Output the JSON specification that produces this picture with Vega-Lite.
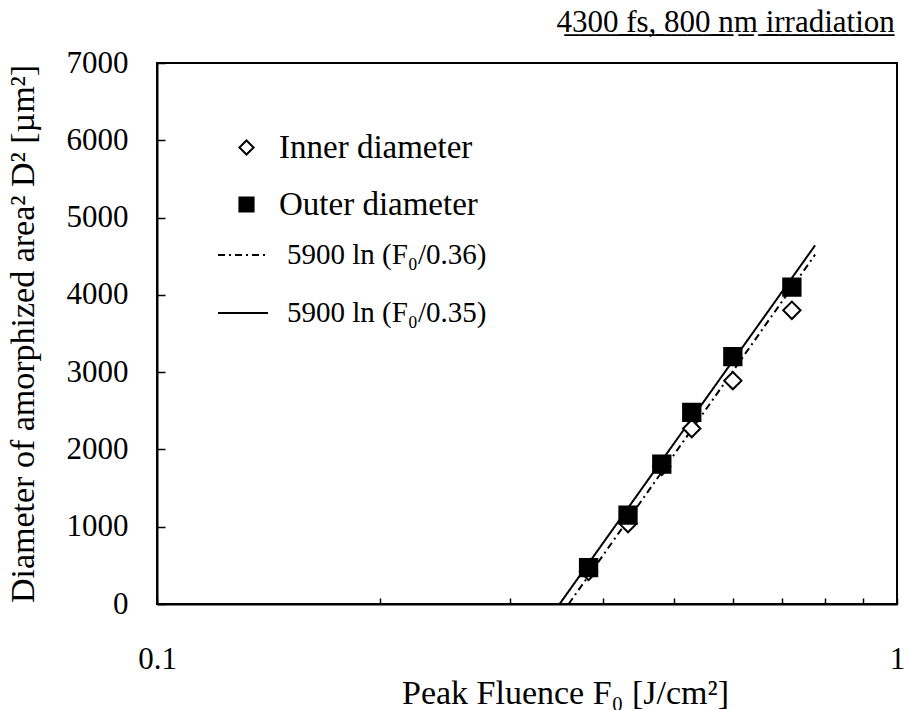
{
  "$schema": "https://vega.github.io/schema/vega-lite/v6.json",
  "width": 740,
  "height": 541,
  "autosize": {"type": "none"},
  "padding": {"left": 157, "top": 63, "right": 7, "bottom": 106},
  "background": "white",
  "title": {
    "text": "4̲3̲0̲0̲ ̲f̲s̲,̲ ̲8̲0̲0̲ ̲n̲m̲ ̲i̲r̲r̲a̲d̲i̲a̲t̲i̲o̲n̲",
    "anchor": "end",
    "font": "'Liberation Serif', 'DejaVu Serif', serif",
    "fontSize": 31,
    "fontWeight": "normal",
    "color": "black",
    "offset": 8,
    "dx": -10
  },
  "config": {
    "font": "'Liberation Serif', 'DejaVu Serif', serif",
    "view": {"stroke": "black", "strokeWidth": 2},
    "axis": {
      "labelFont": "'Liberation Serif', 'DejaVu Serif', serif",
      "titleFont": "'Liberation Serif', 'DejaVu Serif', serif",
      "labelFontSize": 31,
      "titleFontSize": 34,
      "titleFontWeight": "normal",
      "labelColor": "black",
      "titleColor": "black",
      "domainColor": "black",
      "domainWidth": 2,
      "tickColor": "black",
      "tickWidth": 1.5,
      "grid": false
    },
    "legend": {
      "labelFont": "'Liberation Serif', 'DejaVu Serif', serif",
      "labelColor": "black",
      "labelLimit": 400
    }
  },
  "datasets": {
    "pts": [
      {"F": 0.383, "D2": 420, "series": "Inner diameter"},
      {"F": 0.433, "D2": 1040, "series": "Inner diameter"},
      {"F": 0.481, "D2": 1780, "series": "Inner diameter"},
      {"F": 0.528, "D2": 2270, "series": "Inner diameter"},
      {"F": 0.600, "D2": 2890, "series": "Inner diameter"},
      {"F": 0.721, "D2": 3800, "series": "Inner diameter"},
      {"F": 0.383, "D2": 470, "series": "Outer diameter"},
      {"F": 0.433, "D2": 1150, "series": "Outer diameter"},
      {"F": 0.481, "D2": 1810, "series": "Outer diameter"},
      {"F": 0.528, "D2": 2480, "series": "Outer diameter"},
      {"F": 0.600, "D2": 3200, "series": "Outer diameter"},
      {"F": 0.721, "D2": 4100, "series": "Outer diameter"}
    ],
    "fits": [
      {"F": 0.36, "D2": 0, "fit": "5900 ln (F₀/0.36)"},
      {"F": 0.775, "D2": 4520, "fit": "5900 ln (F₀/0.36)"},
      {"F": 0.35, "D2": 0, "fit": "5900 ln (F₀/0.35)"},
      {"F": 0.775, "D2": 4640, "fit": "5900 ln (F₀/0.35)"}
    ]
  },
  "encoding": {
    "x": {
      "field": "F",
      "type": "quantitative",
      "scale": {"type": "log", "domain": [0.1, 1], "nice": false},
      "axis": {
        "title": "Peak Fluence F₀ [J/cm²]",
        "values": [0.1, 0.2, 0.3, 0.4, 0.5, 0.6, 0.7, 0.8, 0.9, 1],
        "labelExpr": "datum.value == 0.1 ? '0.1' : (datum.value == 1 ? '1' : '')",
        "tickSize": -6,
        "labelPadding": 46,
        "titlePadding": 2,
        "titleX": 408,
        "titleAlign": "center",
        "labelFlush": false,
        "labelOverlap": false
      }
    },
    "y": {
      "field": "D2",
      "type": "quantitative",
      "scale": {"domain": [0, 7000], "nice": false},
      "axis": {
        "title": "Diameter of amorphized area² D² [µm²]",
        "values": [0, 1000, 2000, 3000, 4000, 5000, 6000, 7000],
        "format": "d",
        "tickSize": -8,
        "labelPadding": 37,
        "titlePadding": 26
      }
    }
  },
  "layer": [
    {
      "data": {"name": "fits"},
      "mark": {"type": "line", "color": "black", "strokeWidth": 2, "clip": true},
      "encoding": {
        "detail": {"field": "fit"},
        "strokeDash": {
          "field": "fit",
          "type": "nominal",
          "scale": {
            "domain": ["5900 ln (F₀/0.36)", "5900 ln (F₀/0.35)"],
            "range": [[7, 4, 2, 4], [1, 0]]
          },
          "legend": {
            "title": null,
            "orient": "none",
            "legendX": 60,
            "legendY": 166,
            "symbolType": "stroke",
            "symbolSize": 2500,
            "symbolStrokeWidth": 2,
            "symbolStrokeColor": "black",
            "labelFontSize": 29,
            "labelOffset": 18,
            "rowPadding": 17
          }
        }
      }
    },
    {
      "data": {"name": "pts"},
      "mark": {"type": "point", "filled": true, "stroke": "black", "strokeWidth": 2, "size": 300, "opacity": 1},
      "encoding": {
        "shape": {
          "field": "series",
          "type": "nominal",
          "scale": {"domain": ["Inner diameter", "Outer diameter"], "range": ["diamond", "square"]},
          "legend": {
            "title": null,
            "orient": "none",
            "legendX": 73,
            "legendY": 68,
            "symbolSize": 200,
            "symbolStrokeWidth": 2,
            "labelFontSize": 33,
            "labelOffset": 16,
            "rowPadding": 23
          }
        },
        "fill": {
          "field": "series",
          "type": "nominal",
          "scale": {"domain": ["Inner diameter", "Outer diameter"], "range": ["white", "black"]},
          "legend": {
            "title": null,
            "orient": "none",
            "legendX": 73,
            "legendY": 68,
            "symbolSize": 200,
            "symbolStrokeWidth": 2,
            "labelFontSize": 33,
            "labelOffset": 16,
            "rowPadding": 23
          }
        }
      }
    }
  ]
}
